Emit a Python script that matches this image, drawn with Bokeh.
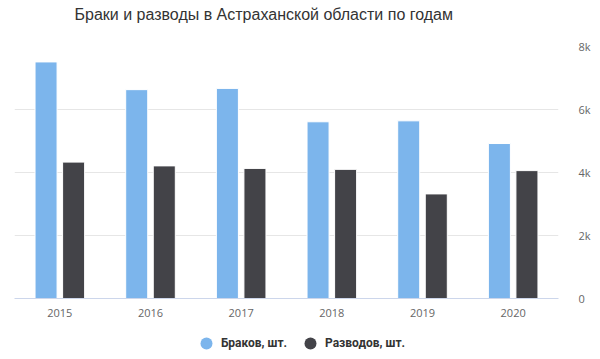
from bokeh.plotting import figure
from bokeh.layouts import column
from bokeh.models import ColumnDataSource, FactorRange, Range1d, FixedTicker, Legend, LegendItem, Label
from bokeh.transform import dodge
from bokeh.core.properties import value
from bokeh.embed import file_html
from bokeh.resources import INLINE

years = ["2015", "2016", "2017", "2018", "2019", "2020"]
marriages = [7510, 6630, 6670, 5610, 5640, 4920]
divorces = [4330, 4210, 4130, 4100, 3320, 4060]
y_ticks = [0, 2000, 4000, 6000, 8000]
y_tick_labels = ["0", "2k", "4k", "6k", "8k"]
title_text = "Браки и разводы в Астраханской области по годам"
series_names = ["Браков, шт.", "Разводов, шт."]
colors = ["#7cb5ec", "#434348"]

FONT = "Open Sans"

src = ColumnDataSource(dict(year=years, marriages=marriages, divorces=divorces))

# title strip
tf = figure(width=600, height=30, x_range=Range1d(0, 1), y_range=Range1d(0, 1),
            output_backend="svg", toolbar_location=None,
            min_border_left=0, min_border_right=0, min_border_top=0, min_border_bottom=0)
tf.axis.visible = False
tf.grid.visible = False
tf.outline_line_color = None
tf.border_fill_color = "white"
tf.add_layout(Label(x=60, y=16, x_units="screen", y_units="screen", text=title_text,
                    text_font="Liberation Sans", text_font_size="16px", text_color="#333333",
                    text_baseline="middle", text_align="left"))

p = figure(width=600, height=298, x_range=FactorRange(*years, range_padding=0),
           y_range=Range1d(0, 8000), y_axis_location="right",
           output_backend="svg", toolbar_location=None,
           min_border_left=14, min_border_right=42, min_border_top=16, min_border_bottom=30)
p.outline_line_color = None
p.background_fill_color = "white"
p.border_fill_color = "white"

p.vbar(x=dodge("year", -0.152, range=p.x_range), top="marriages", width=0.243, source=src,
       fill_color=colors[0], line_color="white", line_width=1)
p.vbar(x=dodge("year", 0.152, range=p.x_range), top="divorces", width=0.243, source=src,
       fill_color=colors[1], line_color="white", line_width=1)

p.xgrid.grid_line_color = None
p.ygrid.grid_line_color = "#e6e6e6"
p.ygrid.ticker = FixedTicker(ticks=y_ticks)

ya = p.yaxis[0]
ya.ticker = FixedTicker(ticks=y_ticks)
ya.major_label_overrides = {t: l for t, l in zip(y_ticks, y_tick_labels)}
ya.axis_line_color = None
ya.major_tick_line_color = None
ya.minor_tick_line_color = None
ya.major_label_standoff = 14
ya.major_label_text_font = FONT
ya.major_label_text_font_size = "11px"
ya.major_label_text_color = "#666666"

xa = p.xaxis[0]
xa.axis_line_color = "#ccd6eb"
xa.major_tick_line_color = None
xa.minor_tick_line_color = None
xa.major_label_standoff = 4
xa.major_label_text_font = FONT
xa.major_label_text_font_size = "11px"
xa.major_label_text_color = "#666666"

# legend strip below the chart
lf = figure(width=600, height=31, x_range=FactorRange(*years, range_padding=0),
            y_range=Range1d(0, 1), output_backend="svg", toolbar_location=None,
            min_border_left=0, min_border_right=0, min_border_top=0, min_border_bottom=0)
lf.axis.visible = False
lf.grid.visible = False
lf.outline_line_color = None
lf.border_fill_color = "white"
d1 = lf.scatter(x="year", y="marriages", size=0, source=src, marker="circle",
                fill_color=colors[0], line_color=None)
d2 = lf.scatter(x="year", y="divorces", size=0, source=src, marker="circle",
                fill_color=colors[1], line_color=None)
legend = Legend(items=[LegendItem(label=value(series_names[0]), renderers=[d1]),
                       LegendItem(label=value(series_names[1]), renderers=[d2])],
                orientation="horizontal", location=(177, 1),
                padding=0, margin=0, spacing=8, glyph_width=30, glyph_height=30,
                label_standoff=-5, border_line_color=None, background_fill_alpha=0,
                label_text_font="Roboto", label_text_font_size="12px", label_text_font_style="bold",
                label_text_color="#333333")
lf.add_layout(legend)

open("out.html", "w").write(file_html(column(tf, p, lf), INLINE))
